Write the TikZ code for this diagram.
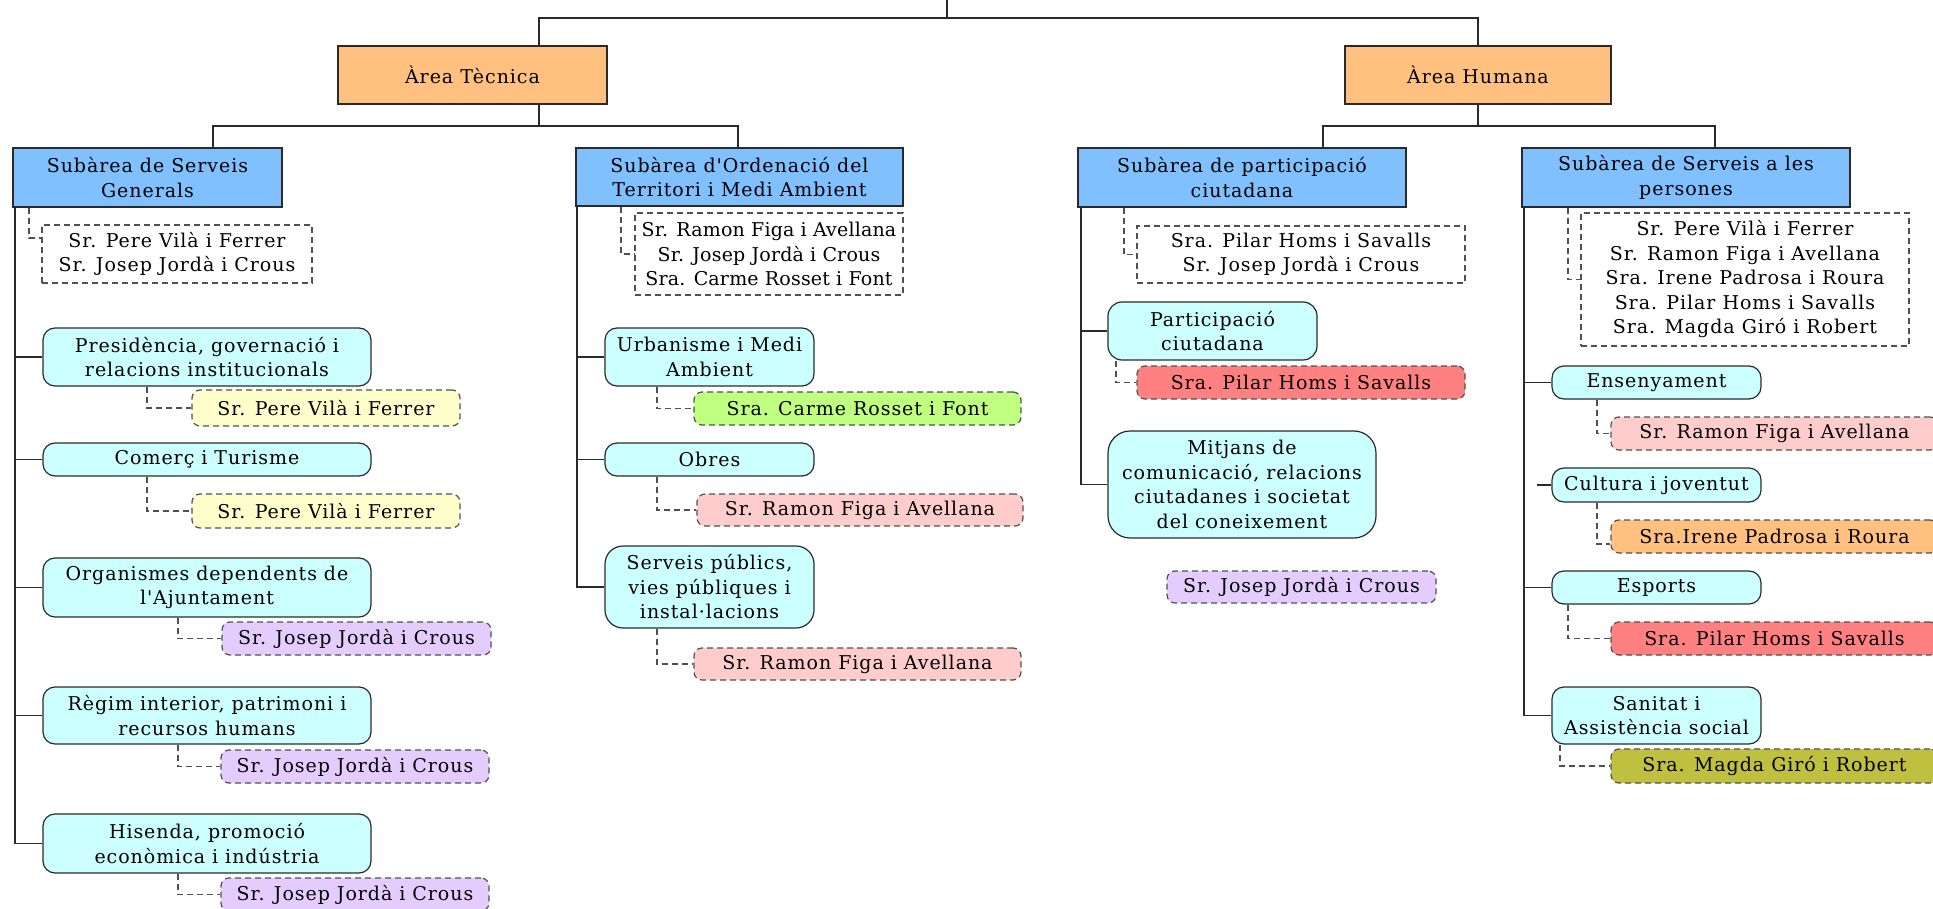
\documentclass[tikz,border=0pt]{standalone}
\usepackage{fontspec}
\newfontfamily\dfont[LetterSpace=5,Ligatures=TeXOff]{DejaVu Serif}
\newfontfamily\dfontn[LetterSpace=1,Ligatures=TeXOff]{DejaVu Serif}
\definecolor{areaC}{HTML}{FFC080}
\definecolor{subC}{HTML}{80C0FF}
\definecolor{itemC}{HTML}{CCFFFF}
\definecolor{yelC}{HTML}{FFFFCC}
\definecolor{grnC}{HTML}{C0FF80}
\definecolor{pnkC}{HTML}{FFCCCC}
\definecolor{purC}{HTML}{E5CCFF}
\definecolor{redC}{HTML}{FF8080}
\definecolor{oraC}{HTML}{FFC080}
\definecolor{oliC}{HTML}{C0C040}
\definecolor{lineC}{HTML}{2A2A2A}
\definecolor{dashC}{HTML}{505050}
\begin{document}
\begin{tikzpicture}[x=0.5pt,y=-0.5pt,
  base/.style={inner sep=0pt, align=center, font=\dfont\fontsize{9.5}{12.25}\selectfont, text=black},
  areabox/.style={base, draw=lineC, fill=areaC, line width=0.7pt},
  subbox/.style={base, draw=lineC, fill=subC, line width=0.7pt},
  itembox/.style={base, draw=lineC, fill=itemC, line width=0.6pt, rounded corners=6pt},
  namesbox/.style={base, draw=dashC, fill=white, dash pattern=on 3pt off 2pt, line width=0.6pt},
  personbox/.style={base, draw=dashC, dash pattern=on 3pt off 2pt, line width=0.6pt, rounded corners=4pt},
  conn/.style={draw=lineC, line width=0.6pt},
  dconn/.style={draw=dashC, line width=0.6pt, dash pattern=on 3pt off 2pt},
]
\useasboundingbox (0,0) rectangle (1933,909);
\fill[white] (0,0) rectangle (1933,909);
\clip (0,0) rectangle (1933,909);

% areas
\node[areabox, minimum width=134.5pt, minimum height=29pt] (AT) at (472.5,75) {Àrea Tècnica};
\node[areabox, minimum width=133pt, minimum height=29pt] (AH) at (1478,75) {Àrea Humana};

% subareas
\node[subbox, minimum width=134.5pt, minimum height=29.5pt] (SG) at (147.5,177.5) {Subàrea de Serveis\\Generals};
\node[subbox, minimum width=163.5pt, minimum height=29pt] (SO) at (739.5,177) {Subàrea d'Ordenació del\\Territori i Medi Ambient};
\node[subbox, minimum width=164pt, minimum height=29.5pt] (SP) at (1242,177.5) {Subàrea de participació\\ciutadana};
\node[subbox, minimum width=164pt, minimum height=29.5pt] (SS) at (1686,177.5) {Subàrea de Serveis a les\\persones};

% names boxes
\node[namesbox, minimum width=135pt, minimum height=29pt] (NG) at (177,254) {Sr. Pere Vilà i Ferrer\\Sr. Josep Jordà i Crous};
\node[namesbox, minimum width=134pt, minimum height=41pt, font=\dfontn\fontsize{9.5}{12.25}\selectfont] (NO) at (769,254) {Sr. Ramon Figa i Avellana\\Sr. Josep Jordà i Crous\\Sra. Carme Rosset i Font};
\node[namesbox, minimum width=164pt, minimum height=28.5pt] (NP) at (1301,254.5) {Sra. Pilar Homs i Savalls\\Sr. Josep Jordà i Crous};
\node[namesbox, minimum width=164pt, minimum height=66.5pt] (NS) at (1745,279.5) {Sr. Pere Vilà i Ferrer\\Sr. Ramon Figa i Avellana\\Sra. Irene Padrosa i Roura\\Sra. Pilar Homs i Savalls\\Sra. Magda Giró i Robert};

% items, left column
\node[itembox, minimum width=164pt, minimum height=29pt] (PR) at (207,357) {Presidència, governació i\\relacions institucionals};
\node[itembox, minimum width=164pt, minimum height=16.5pt] (CT) at (207,459.5) {Comerç i Turisme};
\node[itembox, minimum width=164pt, minimum height=29.5pt] (OR) at (207,587.5) {Organismes dependents de\\l'Ajuntament};
\node[itembox, minimum width=164pt, minimum height=28.5pt] (RG) at (207,715.5) {Règim interior, patrimoni i\\recursos humans};
\node[itembox, minimum width=164pt, minimum height=29.5pt] (HI) at (207,843.5) {Hisenda, promoció\\econòmica i indústria};

% items, second column
\node[itembox, minimum width=104.5pt, minimum height=29pt] (UR) at (709.5,357) {Urbanisme i Medi\\Ambient};
\node[itembox, minimum width=104.5pt, minimum height=16.5pt] (OB) at (709.5,459.5) {Obres};
\node[itembox, minimum width=104.5pt, minimum height=41pt, rounded corners=9pt] (SV) at (709.5,587) {Serveis públics,\\vies públiques i\\instal·lacions};

% items, third column
\node[itembox, minimum width=104.5pt, minimum height=29pt, rounded corners=7pt] (PC) at (1212.5,331) {Participació\\ciutadana};
\node[itembox, minimum width=134pt, minimum height=53.5pt, rounded corners=11pt] (MI) at (1242,484.5) {Mitjans de\\comunicació, relacions\\ciutadanes i societat\\del coneixement};

% items, fourth column
\node[itembox, minimum width=104.5pt, minimum height=16.5pt] (EN) at (1656.5,382.5) {Ensenyament};
\node[itembox, minimum width=104.5pt, minimum height=17pt] (CU) at (1656.5,485) {Cultura i joventut};
\node[itembox, minimum width=104.5pt, minimum height=16.5pt] (ES) at (1656.5,587.5) {Esports};
\node[itembox, minimum width=104.5pt, minimum height=28.5pt] (SA) at (1656.5,715.5) {Sanitat i\\Assistència social};

% person boxes
\node[personbox, fill=yelC, minimum width=134pt, minimum height=18pt] (Y1) at (326,408) {Sr. Pere Vilà i Ferrer};
\node[personbox, fill=yelC, minimum width=134pt, minimum height=17pt] (Y2) at (326,511) {Sr. Pere Vilà i Ferrer};
\node[personbox, fill=purC, minimum width=134.5pt, minimum height=16.5pt] (P1) at (356.5,638.5) {Sr. Josep Jordà i Crous};
\node[personbox, fill=purC, minimum width=134pt, minimum height=16.5pt] (P2) at (355,766.5) {Sr. Josep Jordà i Crous};
\node[personbox, fill=purC, minimum width=134pt, minimum height=16.5pt] (P3) at (355,894.5) {Sr. Josep Jordà i Crous};
\node[personbox, fill=grnC, minimum width=163.5pt, minimum height=16.5pt] (G1) at (857.5,408.5) {Sra. Carme Rosset i Font};
\node[personbox, fill=pnkC, minimum width=163pt, minimum height=16pt] (K1) at (860,510) {Sr. Ramon Figa i Avellana};
\node[personbox, fill=pnkC, minimum width=163.5pt, minimum height=16pt] (K2) at (857.5,664) {Sr. Ramon Figa i Avellana};
\node[personbox, fill=redC, minimum width=164pt, minimum height=16.5pt] (R1) at (1301,382.5) {Sra. Pilar Homs i Savalls};
\node[personbox, fill=purC, minimum width=134.5pt, minimum height=16pt] (P4) at (1301.5,587) {Sr. Josep Jordà i Crous};
\node[personbox, fill=pnkC, minimum width=163.5pt, minimum height=16.5pt] (K3) at (1774.5,433.5) {Sr. Ramon Figa i Avellana};
\node[personbox, fill=oraC, minimum width=163.5pt, minimum height=16.5pt] (O1) at (1774.5,536.5) {Sra.Irene Padrosa i Roura};
\node[personbox, fill=redC, minimum width=163.5pt, minimum height=16.5pt] (R2) at (1774.5,638.5) {Sra. Pilar Homs i Savalls};
\node[personbox, fill=oliC, minimum width=163.5pt, minimum height=17pt] (L1) at (1774.5,766) {Sra. Magda Giró i Robert};

% top connectors
\coordinate (root) at (947,0);
\coordinate (hub) at (947,18);
\draw[conn] (root) -- (hub) -| (AT.north -| 539,0);
\draw[conn] (hub) -| (AH.north);
\coordinate (jT) at (539,126);
\draw[conn] (AT.south -| 539,0) -- (jT) -| (SG.north -| 213,0);
\draw[conn] (jT) -| (SO.north -| 738,0);
\coordinate (jH) at (1478,126);
\draw[conn] (AH.south) -- (jH) -| (SP.north -| 1323,0);
\draw[conn] (jH) -| (SS.north -| 1715,0);

% trunks (one line each) and stubs
\draw[conn] (SG.south -| 15,0) |- (HI.west);
\foreach \n in {PR,CT,OR,RG} \draw[conn] (\n.west) -- (\n.west -| 15,0);
\draw[conn] (SO.south -| 577,0) |- (SV.west);
\foreach \n in {UR,OB} \draw[conn] (\n.west) -- (\n.west -| 577,0);
\draw[conn] (SP.south -| 1081,0) |- (MI.west);
\draw[conn] (PC.west) -- (PC.west -| 1081,0);
\draw[conn] (SS.south -| 1524,0) |- (SA.west);
\foreach \n in {EN,ES} \draw[conn] (\n.west) -- (\n.west -| 1524,0);
\draw[conn] (CU.west) -- ++(-14,0);

% dashed connectors
\draw[dconn] (SG.south -| 29,0) |- ([yshift=8pt]NG.west);
\draw[dconn] (SO.south -| 621,0) |- (NO.west);
\draw[dconn] (SP.south -| 1124,0) |- (NP.west);
\draw[dconn] (SS.south -| 1568,0) |- (NS.west);
\draw[dconn] (PR.south -| 147,0) |- (Y1.west);
\draw[dconn] (CT.south -| 147,0) |- (Y2.west);
\draw[dconn] (OR.south -| 178,0) |- (P1.west);
\draw[dconn] (RG.south -| 178,0) |- (P2.west);
\draw[dconn] (HI.south -| 178,0) |- (P3.west);
\draw[dconn] (UR.south -| 657,0) |- (G1.west);
\draw[dconn] (OB.south -| 657,0) |- (K1.west);
\draw[dconn] (SV.south -| 657,0) |- (K2.west);
\draw[dconn] (PC.south -| 1116,0) |- (R1.west);
\draw[dconn] (EN.south -| 1597,0) |- (K3.west);
\draw[dconn] (CU.south -| 1597,0) |- ([yshift=-3.75pt]O1.west);
\draw[dconn] (ES.south -| 1568,0) |- (R2.west);
\draw[dconn] (SA.south -| 1560,0) |- (L1.west);
\end{tikzpicture}
\end{document}
